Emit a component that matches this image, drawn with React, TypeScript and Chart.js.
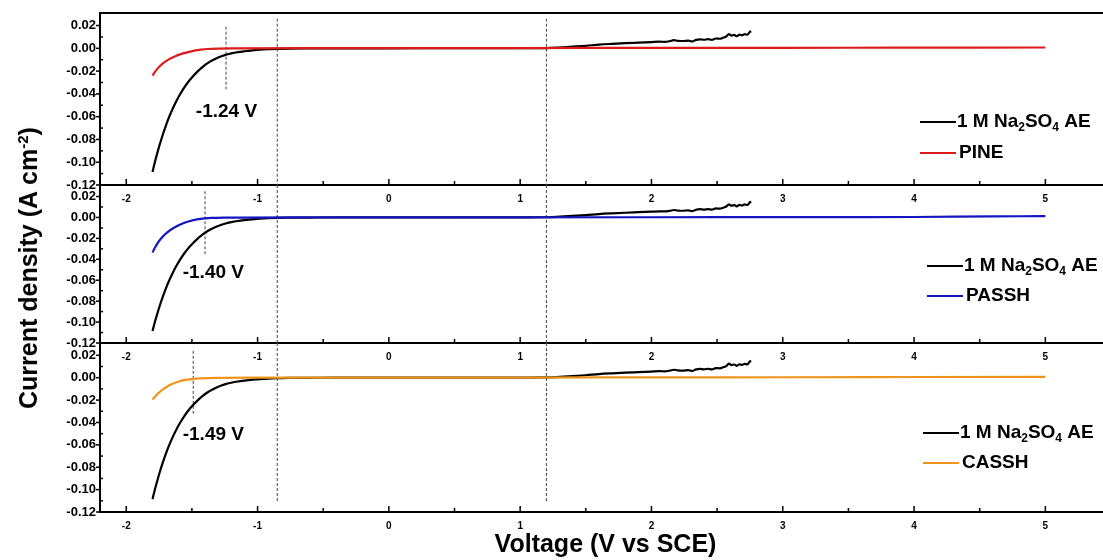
import React, { useEffect, useRef } from 'react';
import { Chart, registerables } from 'chart.js';

Chart.register(...registerables);

const FONT = '"Liberation Sans", Arial, Helvetica, sans-serif';

// ---- Data -------------------------------------------------------------
// Reference electrolyte: 1 M Na2SO4 AE (same sweep shown in all three panels)
const aeVoltage = [
  -1.8, -1.78, -1.76, -1.74, -1.72, -1.7, -1.68, -1.65, -1.62, -1.59, -1.56, -1.53, -1.5,
  -1.46, -1.42, -1.38, -1.34, -1.3, -1.25, -1.2, -1.15, -1.1, -1.04, -0.98, -0.92, -0.85,
  -0.75, -0.6, -0.4, 0, 0.5, 1.0,
  1.2, 1.3, 1.4, 1.5, 1.6, 1.7, 1.8, 1.9, 2.0, 2.06, 2.1, 2.14, 2.17, 2.2, 2.24, 2.28, 2.31,
  2.34, 2.37, 2.4, 2.43, 2.46, 2.49, 2.52, 2.55, 2.57, 2.59, 2.61, 2.63, 2.65, 2.67, 2.69,
  2.71, 2.73, 2.75, 2.76,
];
const aeCurrent = [
  -0.1085, -0.099, -0.0905, -0.0825, -0.0752, -0.0685, -0.0622, -0.054, -0.0467, -0.0403, -0.0347, -0.0298, -0.0256,
  -0.0207, -0.0165, -0.013, -0.0103, -0.0081, -0.006, -0.0045, -0.0034, -0.0026, -0.0018, -0.0012, -0.0008, -0.0005,
  -0.0002, -0.0001, 0, 0, 0.0001, 0.0001,
  0.0002, 0.0007, 0.0014, 0.0022, 0.0032, 0.0039, 0.0045, 0.005, 0.0055, 0.0058, 0.0057, 0.0063, 0.0071, 0.0066, 0.0064, 0.0068, 0.006,
  0.0074, 0.0079, 0.0075, 0.008, 0.0074, 0.0086, 0.0084, 0.0095, 0.0104, 0.0125, 0.0112, 0.0118, 0.0106, 0.012, 0.0114,
  0.0124, 0.0119, 0.0145, 0.015,
];

// PINE
const pineVoltage = [-1.8, -1.78, -1.76, -1.735, -1.7, -1.66, -1.63, -1.59, -1.53, -1.48, -1.43, -1.38, -1.3, -1.2, -0.5, 0.5, 1.5, 2.5, 3.5, 4.5, 5.0];
const pineCurrent = [-0.024, -0.0205, -0.0176, -0.0146, -0.0114, -0.0087, -0.0071, -0.0053, -0.0034, -0.0021, -0.0012, -0.0006, -0.0002, 0, 0.0001, 0.0002, 0.0003, 0.0004, 0.0005, 0.0006, 0.0007];

// PASSH
const passhVoltage = [-1.8, -1.78, -1.76, -1.73, -1.69, -1.64, -1.58, -1.52, -1.46, -1.4, -1.35, -1.25, -1.1, -0.5, 0.5, 2.0, 3.5, 4.0, 4.6, 5.0];
const passhCurrent = [-0.0334, -0.0285, -0.0243, -0.0194, -0.0145, -0.0101, -0.0063, -0.0036, -0.0018, -0.0009, -0.0005, -0.0002, -0.0001, 0, 0.0001, 0.0002, 0.0003, 0.0004, 0.001, 0.0012];

// CASSH
const casshVoltage = [-1.8, -1.77, -1.735, -1.7, -1.66, -1.61, -1.56, -1.5, -1.43, -1.3, -1.0, 0, 1.0, 2.0, 3.0, 4.0, 5.0];
const casshCurrent = [-0.0195, -0.0155, -0.0118, -0.0088, -0.0061, -0.0038, -0.0022, -0.0012, -0.0006, -0.0002, 0, 0.0001, 0.0001, 0.0003, 0.0004, 0.0006, 0.0008];

const seriesNames = ['PINE', 'PASSH', 'CASSH'];
const seriesVoltages = [pineVoltage, passhVoltage, casshVoltage];
const seriesCurrents = [pineCurrent, passhCurrent, casshCurrent];
const referenceName = '1 M Na2SO4 AE';

// tick labels
const xTickValues = [-2, -1, 0, 1, 2, 3, 4, 5];
const xMinorTickValues = [-1.5, -0.5, 0.5, 1.5, 2.5, 3.5, 4.5];
const yTickValues = [-0.12, -0.1, -0.08, -0.06, -0.04, -0.02, 0, 0.02];
const yMinorTickValues = [-0.11, -0.09, -0.07, -0.05, -0.03, -0.01, 0.01];

// onset markers (voltage, marker span in A cm-2, label anchor)
const onsetVoltages = [-1.24, -1.4, -1.49];
const onsetTop = [0.019, 0.025, 0.024];
const onsetBottom = [-0.036, -0.035, -0.033];
const onsetLabelX = [-1.47, -1.57, -1.57];
const onsetLabelY = [-0.0555, -0.0525, -0.051];

// guide lines through all panels
const guideVoltages = [-0.85, 1.2];
const guideTop = [0.026, 0.031, 0.031];
const guideBottom = [-0.12, -0.12, -0.111];

// ---- Layout / style ---------------------------------------------------
const CANVAS_W = 1120;
const AREA_RIGHT = 1111;
const PAD_TOP = 13;
const X_MIN = -2.2;
const X_MAX = 5.5;
const Y_MIN = -0.12;
const Y_MAX = 0.031;

const PANELS = [
  { top: 0, areaH: 172, axisH: 20, color: '#dc1c1c', legendX: 920, legendY: 109, legendGap: 31, topBorder: true, title: false },
  { top: 172, areaH: 158, axisH: 20, color: '#1515c4', legendX: 927, legendY: 81, legendGap: 30, topBorder: false, title: false },
  { top: 330, areaH: 169, axisH: 48, color: '#ef951f', legendX: 923, legendY: 90, legendGap: 30, topBorder: false, title: true },
];

const toPts = (xs: number[], ys: number[]) => xs.map((x, i) => ({ x, y: ys[i] }));

function drawReferenceLabel(ctx: CanvasRenderingContext2D, x: number, y: number) {
  const big = `bold 19px ${FONT}`;
  const small = `bold 12px ${FONT}`;
  const parts: [string, string, number][] = [
    ['1 M Na', big, 0],
    ['2', small, 6],
    ['SO', big, 0],
    ['4', small, 6],
    [' AE', big, 0],
  ];
  let cx = x;
  for (const [t, f, dy] of parts) {
    ctx.font = f;
    ctx.fillText(t, cx, y + dy);
    cx += ctx.measureText(t).width;
  }
}

const decorPlugin = {
  id: 'decor',
  afterDraw(chart: any, _args: any, opts: any) {
    const idx: number = opts.idx;
    const p = PANELS[idx];
    const { ctx, chartArea: a, scales } = chart;
    const x = scales.x;
    const y = scales.y;
    const seg = (x1: number, y1: number, x2: number, y2: number) => {
      ctx.beginPath();
      ctx.moveTo(x1, y1);
      ctx.lineTo(x2, y2);
      ctx.stroke();
    };
    ctx.save();
    ctx.strokeStyle = '#000';
    if (p.topBorder) {
      ctx.lineWidth = 2;
      seg(a.left - 1, a.top, a.right, a.top);
    }
    ctx.lineWidth = 1.5;
    xTickValues.forEach((v) => {
      const px = x.getPixelForValue(v);
      seg(px, a.bottom, px, a.bottom - 6);
    });
    xMinorTickValues.forEach((v) => {
      const px = x.getPixelForValue(v);
      seg(px, a.bottom, px, a.bottom - 4);
    });
    yTickValues.forEach((v) => {
      const py = y.getPixelForValue(v);
      seg(a.left, py, a.left - 4, py);
    });
    yMinorTickValues.forEach((v) => {
      const py = y.getPixelForValue(v);
      seg(a.left, py, a.left + 3, py);
    });

    // onset label
    ctx.fillStyle = '#000';
    ctx.textAlign = 'left';
    ctx.textBaseline = 'middle';
    ctx.font = `bold 19px ${FONT}`;
    ctx.fillText(
      `${onsetVoltages[idx].toFixed(2)} V`,
      x.getPixelForValue(onsetLabelX[idx]),
      y.getPixelForValue(onsetLabelY[idx])
    );

    // legend
    const ly1 = a.top + p.legendY;
    const ly2 = ly1 + p.legendGap;
    const lx = p.legendX;
    const len = 36;
    ctx.lineWidth = 2;
    ctx.strokeStyle = '#000';
    seg(lx, ly1, lx + len, ly1);
    drawReferenceLabel(ctx, lx + len + 1, ly1);
    ctx.strokeStyle = p.color;
    seg(lx, ly2, lx + len, ly2);
    ctx.font = `bold 19px ${FONT}`;
    ctx.fillText(seriesNames[idx], lx + len + 3, ly2);
    ctx.restore();
  },
};

function Panel({ idx }: { idx: number }) {
  const ref = useRef<HTMLCanvasElement>(null);
  const p = PANELS[idx];
  const h = PAD_TOP + p.areaH + p.axisH;

  useEffect(() => {
    if (!ref.current) return;
    const dashed = (data: { x: number; y: number }[]) => ({
      label: 'guide',
      data,
      borderColor: '#444',
      borderWidth: 1,
      borderDash: [3, 2],
      pointRadius: 0,
      tension: 0,
      order: 2,
    });
    const chart = new Chart(ref.current, {
      type: 'line',
      data: {
        datasets: [
          {
            label: seriesNames[idx],
            data: toPts(seriesVoltages[idx], seriesCurrents[idx]),
            borderColor: p.color,
            borderWidth: 2.2,
            pointRadius: 0,
            cubicInterpolationMode: 'monotone',
            order: 0,
          },
          {
            label: referenceName,
            data: toPts(aeVoltage, aeCurrent),
            borderColor: '#000',
            borderWidth: 2.2,
            pointRadius: 0,
            cubicInterpolationMode: 'monotone',
            order: 1,
          },
          dashed([
            { x: onsetVoltages[idx], y: onsetTop[idx] },
            { x: onsetVoltages[idx], y: onsetBottom[idx] },
          ]),
          ...guideVoltages.map((v) =>
            dashed([
              { x: v, y: guideTop[idx] },
              { x: v, y: guideBottom[idx] },
            ])
          ),
        ] as any,
      },
      options: {
        animation: false,
        responsive: false,
        maintainAspectRatio: false,
        events: [],
        layout: { padding: { top: PAD_TOP, right: CANVAS_W - AREA_RIGHT, left: 0, bottom: 0 } },
        plugins: {
          legend: { display: false },
          tooltip: { enabled: false },
          decor: { idx },
        } as any,
        scales: {
          x: {
            type: 'linear',
            min: X_MIN,
            max: X_MAX,
            position: 'bottom',
            afterBuildTicks: (s: any) => {
              s.ticks = xTickValues.map((v) => ({ value: v }));
            },
            afterFit: (s: any) => {
              s.height = p.axisH;
              s.paddingLeft = 0;
              s.paddingRight = 0;
            },
            grid: { display: true, drawOnChartArea: false, drawTicks: false },
            border: { display: true, color: '#000', width: 2 },
            ticks: {
              autoSkip: false,
              maxRotation: 0,
              padding: 8,
              color: '#000',
              font: { family: FONT, size: 10, weight: 'bold' },
              callback: (v: any) => String(v),
            },
            title: p.title
              ? {
                  display: true,
                  text: 'Voltage (V vs SCE)',
                  color: '#000',
                  font: { family: FONT, size: 25, weight: 'bold' },
                  padding: { top: 0, bottom: 0 },
                }
              : { display: false },
          },
          y: {
            type: 'linear',
            min: Y_MIN,
            max: Y_MAX,
            afterBuildTicks: (s: any) => {
              s.ticks = yTickValues.map((v) => ({ value: v }));
            },
            afterFit: (s: any) => {
              s.width = 100;
              s.paddingTop = 0;
              s.paddingBottom = 0;
            },
            grid: { display: true, drawOnChartArea: false, drawTicks: false },
            border: { display: true, color: '#000', width: 2 },
            ticks: {
              autoSkip: false,
              padding: 4,
              color: '#000',
              font: { family: FONT, size: 13, weight: 'bold' },
              callback: (v: any) => Number(v).toFixed(2),
            },
          },
        } as any,
      },
      plugins: [decorPlugin],
    });
    return () => chart.destroy();
  }, [idx]);

  return (
    <canvas
      ref={ref}
      width={CANVAS_W}
      height={h}
      style={{ position: 'absolute', left: 0, top: p.top, width: CANVAS_W, height: h }}
    />
  );
}

export default function App() {
  return (
    <div
      style={{
        position: 'absolute',
        left: 0,
        top: 0,
        width: 1103,
        height: 560,
        overflow: 'hidden',
        background: '#fff',
      }}
    >
      {PANELS.map((_, i) => (
        <Panel key={i} idx={i} />
      ))}
      <div
        style={{
          position: 'absolute',
          left: 28,
          top: 268,
          transform: 'translate(-50%, -50%) rotate(-90deg)',
          whiteSpace: 'nowrap',
          font: `bold 25px ${FONT}`,
          color: '#000',
          lineHeight: '30px',
        }}
      >
        Current density (A cm<sup style={{ fontSize: '0.6em', lineHeight: 0 }}>-2</sup>)
      </div>
    </div>
  );
}
